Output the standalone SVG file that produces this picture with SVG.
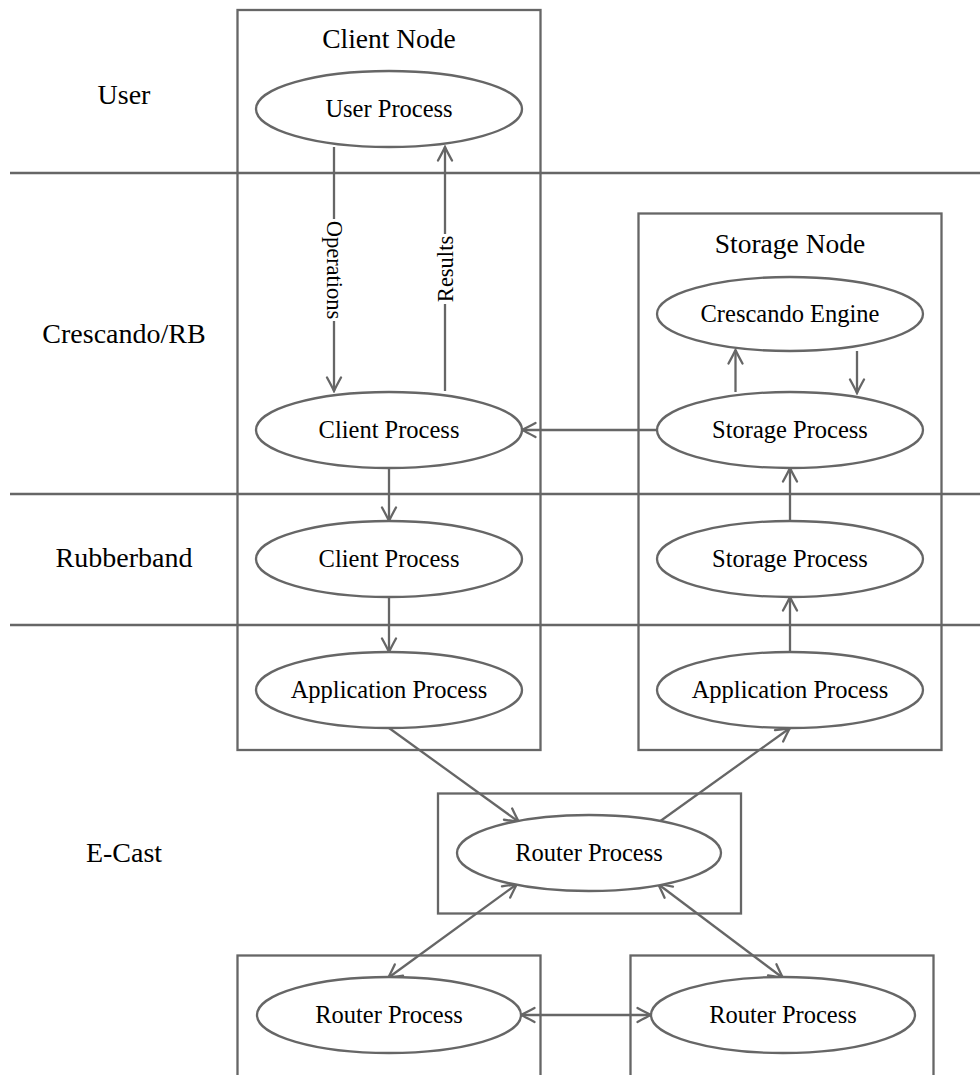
<svg xmlns="http://www.w3.org/2000/svg" width="980" height="1075" viewBox="0 0 980 1075">
  <style>
    .frame { fill: none; stroke: #666; stroke-width: 2.3; }
    .proc { fill: #fff; stroke: #666; stroke-width: 2.3; }
    .wire { fill: none; stroke: #666; stroke-width: 2.3; }
    .lane { stroke: #666; stroke-width: 2.3; }
    text { font-family: "Liberation Serif", "Times New Roman", serif; fill: #000; text-anchor: middle; }
    .pl { font-size: 24.5px; }
    .title { font-size: 27.5px; }
    .layer { font-size: 28px; }
    .el { font-size: 22.5px; }
  </style>
  <defs>
    <marker id="tip" viewBox="-16 -9 18 18" markerWidth="18" markerHeight="18" refX="0" refY="0" orient="auto-start-reverse" markerUnits="userSpaceOnUse">
      <path d="M -13.5 -7 Q -4 -1.8 0 0 Q -4 1.8 -13.5 7" fill="none" stroke="#666" stroke-width="2.3" stroke-linecap="round"/>
    </marker>
  </defs>

  <!-- layer separators -->
  <g id="lanes">
    <line class="lane" x1="10" y1="173" x2="980" y2="173"/>
    <line class="lane" x1="10" y1="494" x2="980" y2="494"/>
    <line class="lane" x1="10" y1="625" x2="980" y2="625"/>
  </g>

  <!-- layer names -->
  <g id="layer-labels">
    <text class="layer" x="124" y="104">User</text>
    <text class="layer" x="124" y="343">Crescando/RB</text>
    <text class="layer" x="124" y="567">Rubberband</text>
    <text class="layer" x="124" y="862">E-Cast</text>
  </g>

  <!-- machine boxes -->
  <g id="client-node">
    <rect class="frame" x="237.5" y="10" width="303" height="740"/>
    <text class="title" x="389" y="48">Client Node</text>
  </g>
  <g id="storage-node">
    <rect class="frame" x="638.5" y="213.5" width="303" height="536.5"/>
    <text class="title" x="790" y="253">Storage Node</text>
  </g>
  <g id="router-node">
    <rect class="frame" x="438" y="793.5" width="303" height="120"/>
  </g>
  <g id="peer-node-left">
    <rect class="frame" x="237.5" y="955.5" width="303" height="160"/>
  </g>
  <g id="peer-node-right">
    <rect class="frame" x="630.5" y="955.5" width="303" height="160"/>
  </g>

  <!-- connectors -->
  <g id="connectors">
    <line class="wire" x1="334" y1="147" x2="334" y2="391" marker-end="url(#tip)"/>
    <line class="wire" x1="445" y1="391" x2="445" y2="147" marker-end="url(#tip)"/>
    <line class="wire" x1="657" y1="430" x2="522" y2="430" marker-end="url(#tip)"/>
    <line class="wire" x1="735.5" y1="392" x2="735.5" y2="350" marker-end="url(#tip)"/>
    <line class="wire" x1="857" y1="351" x2="857" y2="393" marker-end="url(#tip)"/>
    <line class="wire" x1="389" y1="468" x2="389" y2="521" marker-end="url(#tip)"/>
    <line class="wire" x1="389" y1="597" x2="389" y2="652" marker-end="url(#tip)"/>
    <line class="wire" x1="790" y1="521" x2="790" y2="468" marker-end="url(#tip)"/>
    <line class="wire" x1="790" y1="652" x2="790" y2="597" marker-end="url(#tip)"/>
    <line class="wire" x1="389" y1="728" x2="519" y2="822" marker-end="url(#tip)"/>
    <line class="wire" x1="659" y1="822" x2="790" y2="728" marker-end="url(#tip)"/>
    <line class="wire" x1="517" y1="884" x2="388" y2="978" marker-start="url(#tip)" marker-end="url(#tip)"/>
    <line class="wire" x1="658" y1="884" x2="783" y2="978" marker-start="url(#tip)" marker-end="url(#tip)"/>
    <line class="wire" x1="521" y1="1015" x2="651" y2="1015" marker-start="url(#tip)" marker-end="url(#tip)"/>
    <!-- edge labels -->
    <rect x="325" y="219" width="18" height="102" fill="#fff"/>
    <text class="el" transform="translate(334 270) rotate(90)" y="7.5">Operations</text>
    <rect x="436" y="234" width="18" height="70" fill="#fff"/>
    <text class="el" transform="translate(445 269) rotate(-90)" y="7.5">Results</text>
  </g>

  <!-- processes -->
  <g id="user-process">
    <ellipse class="proc" cx="389" cy="109" rx="133" ry="38"/>
    <text class="pl" x="389" y="117">User Process</text>
  </g>
  <g id="client-process-crb">
    <ellipse class="proc" cx="389" cy="430" rx="133" ry="38"/>
    <text class="pl" x="389" y="438">Client Process</text>
  </g>
  <g id="crescando-engine">
    <ellipse class="proc" cx="790" cy="314" rx="133" ry="37"/>
    <text class="pl" x="790" y="322">Crescando Engine</text>
  </g>
  <g id="storage-process-crb">
    <ellipse class="proc" cx="790" cy="430" rx="133" ry="38"/>
    <text class="pl" x="790" y="438">Storage Process</text>
  </g>
  <g id="client-process-rb">
    <ellipse class="proc" cx="389" cy="559" rx="133" ry="38"/>
    <text class="pl" x="389" y="567">Client Process</text>
  </g>
  <g id="storage-process-rb">
    <ellipse class="proc" cx="790" cy="559" rx="133" ry="38"/>
    <text class="pl" x="790" y="567">Storage Process</text>
  </g>
  <g id="application-process-client">
    <ellipse class="proc" cx="389" cy="690" rx="133" ry="38"/>
    <text class="pl" x="389" y="698">Application Process</text>
  </g>
  <g id="application-process-storage">
    <ellipse class="proc" cx="790" cy="690" rx="133" ry="38"/>
    <text class="pl" x="790" y="698">Application Process</text>
  </g>
  <g id="router-process-main">
    <ellipse class="proc" cx="589" cy="853" rx="132" ry="38"/>
    <text class="pl" x="589" y="861">Router Process</text>
  </g>
  <g id="router-process-left">
    <ellipse class="proc" cx="389" cy="1015" rx="132" ry="38"/>
    <text class="pl" x="389" y="1023">Router Process</text>
  </g>
  <g id="router-process-right">
    <ellipse class="proc" cx="783" cy="1015" rx="132" ry="38"/>
    <text class="pl" x="783" y="1023">Router Process</text>
  </g>
</svg>
